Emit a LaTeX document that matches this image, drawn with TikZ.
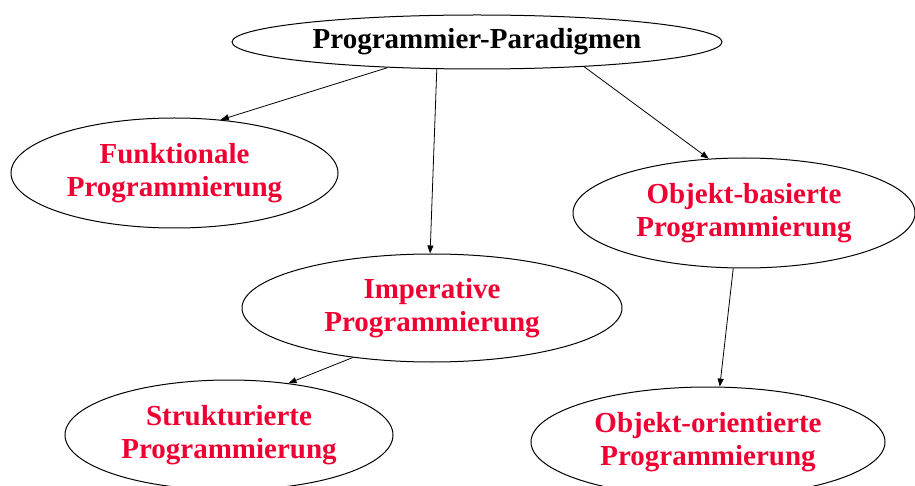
\documentclass[tikz,border=0pt]{standalone}
\usepackage{fontspec}
\setmainfont{Liberation Serif}
\usetikzlibrary{shapes.geometric,arrows.meta}
\definecolor{lblred}{RGB}{240,0,50}
\begin{document}
\begin{tikzpicture}[x=1pt,y=-1pt,
  oval/.style={draw,ellipse,inner sep=0pt,line width=1pt,align=center,
    font=\bfseries\fontsize{29}{32.5}\selectfont},
  paradigm/.style={oval,text=lblred},
  conn/.style={-{Triangle[length=8pt,width=6pt]},line width=0.8pt}]
\clip (0,0) rectangle (915,486);
\node[oval,minimum width=490pt,minimum height=54pt] (top) at (477,42) {Programmier-Paradigmen};
\node[paradigm,minimum width=327pt,minimum height=110pt] (fun) at (174.5,173) {Funktionale\\Programmierung};
\node[paradigm,minimum width=342pt,minimum height=110pt] (obb) at (744,213) {Objekt-basierte\\Programmierung};
\node[paradigm,minimum width=380pt,minimum height=108pt] (imp) at (432,308) {Imperative\\Programmierung};
\node[paradigm,minimum width=328pt,minimum height=110pt] (str) at (229,435) {Strukturierte\\Programmierung};
\node[paradigm,minimum width=354pt,minimum height=110pt] (oo) at (708,442) {Objekt-orientierte\\Programmierung};
\draw[conn] (top.196.6) -- (fun.49.2);
\draw[conn] (top.214.3) -- (imp.92);
\draw[conn] (top.347.2) -- (obb.123.9);
\draw[conn] (imp.212.5) -- (str.41);
\draw[conn] (obb.259.5) -- (oo.78.7);
\end{tikzpicture}
\end{document}
